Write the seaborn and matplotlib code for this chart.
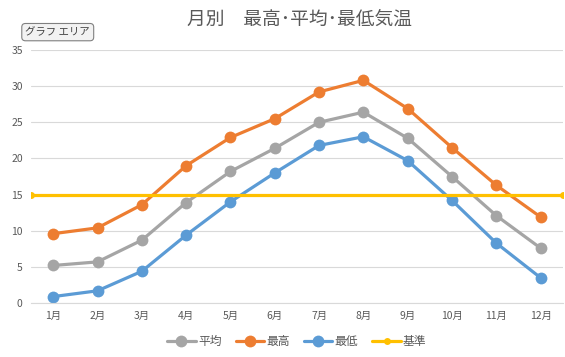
import matplotlib
matplotlib.use("Agg")
import matplotlib.pyplot as plt
import seaborn as sns
import pandas as pd

months = ["1月", "2月", "3月", "4月", "5月", "6月", "7月", "8月", "9月", "10月", "11月", "12月"]
avg_t = [5.2, 5.7, 8.7, 13.9, 18.2, 21.4, 25.0, 26.4, 22.8, 17.5, 12.1, 7.6]
max_t = [9.6, 10.4, 13.6, 19.0, 22.9, 25.5, 29.2, 30.8, 26.9, 21.5, 16.3, 11.9]
min_t = [0.9, 1.7, 4.4, 9.4, 14.0, 18.0, 21.8, 23.0, 19.7, 14.2, 8.3, 3.5]
base_x = [0.5, 12.5]
base_v = [15, 15]

sns.set_style("white")
plt.rcParams['font.family'] = ['Noto Sans CJK JP', 'DejaVu Sans']

df = pd.DataFrame({"x": range(1, 13), "平均": avg_t, "最高": max_t, "最低": min_t})
colors = {"平均": "#A5A5A5", "最高": "#ED7D31", "最低": "#5B9BD5"}

fig = plt.figure(figsize=(5.65, 3.57), dpi=100)
ax = fig.add_axes([0.055, 0.151, 0.941, 0.709])

for name in ["平均", "最高", "最低"]:
    sns.lineplot(data=df, x="x", y=name, ax=ax, color=colors[name], marker="o",
                 markersize=8.5, markeredgewidth=0, linewidth=2.3, label=name)
sns.lineplot(x=base_x, y=base_v, ax=ax, color="#FFC000", marker="o", markersize=5,
             markeredgewidth=0, linewidth=2.3, label="基準")

ax.set_xlim(0.5, 12.5)
ax.set_ylim(0, 35)
ax.set_yticks(range(0, 36, 5))
ax.set_xticks(range(1, 13))
ax.set_xticklabels(months)
ax.set_xlabel("")
ax.set_ylabel("")
ax.grid(axis="y", color="#D9D9D9", linewidth=0.8)
ax.set_axisbelow(True)
for s in ["left", "right", "top"]:
    ax.spines[s].set_visible(False)
ax.spines["bottom"].set_color("#D9D9D9")
ax.tick_params(axis="both", length=0, labelsize=7.5, colors="#595959", pad=6)

fig.suptitle("月別　最高･平均･最低気温", y=0.975, x=0.53, fontsize=13.5, color="#595959")

ax.legend(loc="upper center", bbox_to_anchor=(0.5, -0.085), ncol=4, frameon=False,
          fontsize=8.5, handlelength=2.4, handletextpad=0.2, columnspacing=1.2,
          labelcolor="#595959")

fig.text(0.045, 0.91, "グラフ エリア", fontsize=7.5, color="#404040", va="center",
         bbox=dict(boxstyle="round,pad=0.35", fc="#F2F2F2", ec="#808080", lw=0.8))

fig.savefig("out.png", dpi=100)
